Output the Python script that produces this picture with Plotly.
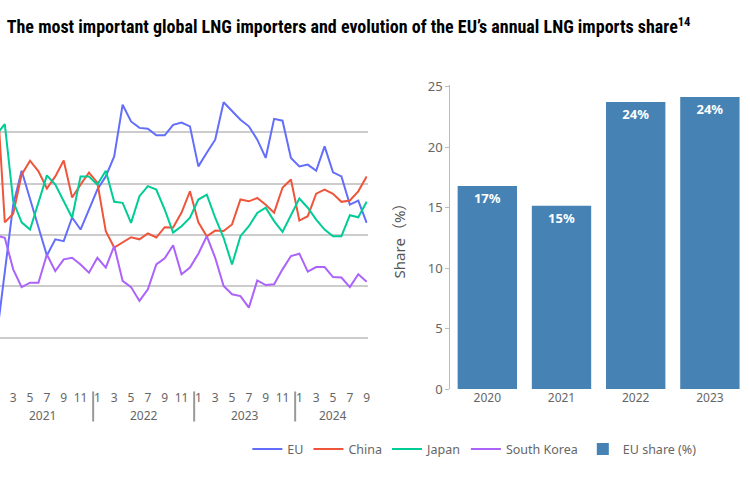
import plotly.graph_objects as go

# ---------------- data ----------------
start_year = 2021
eu = [1.94, 4.47, 7.18, 8.50, 7.38, 6.29, 5.20, 5.83, 5.76, 6.68, 6.21, 6.99,
      7.77, 8.28, 9.06, 11.07, 10.42, 10.17, 10.14, 9.88, 9.88, 10.29, 10.38, 10.23,
      8.67, 9.20, 9.71, 11.17, 10.81, 10.49, 10.23, 9.71, 9.00, 10.52, 10.45, 9.00,
      8.67, 8.74, 8.50, 9.45, 8.44, 8.28, 7.18, 7.34, 6.47]
china = [11.9, 6.49, 6.83, 8.35, 8.89, 8.48, 7.81, 8.28, 8.90, 7.46, 7.96, 8.43,
         8.04, 6.15, 5.51, 5.71, 5.91, 5.83, 6.06, 5.90, 6.30, 6.29, 6.87, 7.70,
         6.49, 5.95, 6.17, 6.15, 6.41, 7.38, 7.31, 7.44, 7.18, 6.87, 7.84, 8.16,
         6.56, 6.73, 7.61, 7.77, 7.60, 7.29, 7.34, 7.70, 8.28]
japan = [9.90, 10.32, 7.31, 6.49, 6.21, 7.31, 8.32, 7.96, 7.31, 6.67, 8.28, 8.28,
         7.96, 8.50, 7.29, 7.25, 6.47, 7.51, 7.90, 7.77, 6.99, 6.09, 6.34, 6.67,
         7.38, 7.57, 6.67, 5.89, 4.85, 5.95, 6.34, 6.86, 7.06, 6.54, 6.12, 6.80,
         7.42, 7.06, 6.60, 6.21, 5.95, 5.95, 6.77, 6.69, 7.29]
south_korea = [5.98, 5.89, 4.66, 3.97, 4.14, 4.14, 5.24, 4.59, 5.05, 5.11, 4.85, 4.53,
               5.11, 4.73, 5.57, 4.21, 3.97, 3.43, 3.88, 4.85, 5.09, 5.60, 4.47, 4.73,
               5.27, 5.95, 5.11, 4.01, 3.69, 3.62, 3.17, 4.23, 4.05, 4.08, 4.66, 5.18,
               5.27, 4.57, 4.75, 4.75, 4.36, 4.34, 3.97, 4.47, 4.18]

share_years = ["2020", "2021", "2022", "2023"]
share_values = [16.8, 15.15, 23.75, 24.15]

# derived month/year labels
n = len(eu)
x_idx = list(range(n))
months = [(i % 12) + 1 for i in x_idx]
years = [start_year + i // 12 for i in x_idx]
tickvals = [i for i in x_idx if months[i] % 2 == 1]
ticktext = [str(months[i]) for i in tickvals]
year_list = sorted(set(years))

TICK_FONT = dict(family="Noto Sans, DejaVu Sans, sans-serif", size=12, color="#666666")

fig = go.Figure()

series = [("EU", eu, "#636EFA"), ("China", china, "#EF553B"),
          ("Japan", japan, "#00CC96"), ("South Korea", south_korea, "#AB63FA")]
for name, vals, col in series:
    fig.add_trace(go.Scatter(x=x_idx, y=vals, mode="lines", name=name,
                             line=dict(color=col, width=2),
                             xaxis="x", yaxis="y"))

fig.add_trace(go.Bar(x=share_years, y=share_values, name="EU share (%)",
                     marker=dict(color="#4682B4", line=dict(width=0)),
                     texttemplate="%{y:.0f}%", textposition="inside",
                     insidetextanchor="end",
                     textfont=dict(family="Noto Sans, DejaVu Sans, sans-serif",
                                   size=13, color="white", weight="bold"),
                     xaxis="x2", yaxis="y2"))

# year annotations and dividers
annotations = []
shapes = []
for yr in year_list:
    idxs = [i for i in x_idx if years[i] == yr]
    annotations.append(dict(x=sum(idxs) / len(idxs), y=-0.087, xref="x", yref="paper",
                            text=str(yr), showarrow=False, yanchor="middle",
                            font=TICK_FONT))
    if yr != year_list[0]:
        xd = idxs[0] - 0.5
        shapes.append(dict(type="line", xref="x", yref="paper", x0=xd, x1=xd,
                           y0=-0.107, y1=-0.008,
                           line=dict(color="#999999", width=2)))

fig.update_layout(
    width=750, height=493,
    margin=dict(l=0, r=0, t=85, b=104),
    paper_bgcolor="white", plot_bgcolor="white",
    title=dict(text="The most important global LNG importers and evolution of the EU’s annual LNG imports share<sup>14</sup>",
               x=0.009, xanchor="left", xref="container",
               y=0.945, yanchor="middle", yref="container",
               font=dict(family="Liberation Sans Narrow, Arial Narrow, Roboto Condensed, sans-serif",
                         size=18, color="black", weight="bold")),
    xaxis=dict(domain=[0, 0.492], range=[0.43, 44.1], tickmode="array",
               tickvals=tickvals, ticktext=ticktext, showgrid=False,
               zeroline=False, showline=False, ticks="", tickfont=TICK_FONT),
    yaxis=dict(range=[0, 11.84], tickmode="array", tickvals=[2, 4, 6, 8, 10],
               showticklabels=False, showgrid=True, gridcolor="#cccccc",
               gridwidth=1.5, zeroline=False, showline=False),
    xaxis2=dict(domain=[0.6027, 1], anchor="y2", showgrid=False, showline=False,
                ticks="", tickfont=TICK_FONT),
    yaxis2=dict(anchor="x2", range=[0, 25.15], dtick=5, showgrid=False,
                zeroline=False, showline=True, linecolor="#bbbbbb", linewidth=1,
                ticks="outside", ticklen=4, tickcolor="#bbbbbb",
                tickfont=dict(family="Noto Sans, DejaVu Sans, sans-serif", size=13, color="#666666"),
                title=dict(text="Share（%）", standoff=18,
                           font=dict(family="Noto Sans, Noto Sans CJK SC, sans-serif",
                                     size=15, color="#555555"))),
    bargap=0.2,
    showlegend=True,
    legend=dict(orientation="h", x=0.635, xanchor="center", y=-0.199, yanchor="middle",
                font=dict(family="Noto Sans, DejaVu Sans, sans-serif", size=12.5, color="#666666"),
                bgcolor="rgba(0,0,0,0)"),
    annotations=annotations,
    shapes=shapes,
)

fig.write_html("out.html", config={"displayModeBar": False},
               post_script="document.body.style.margin='0px';document.body.style.padding='0px';")
